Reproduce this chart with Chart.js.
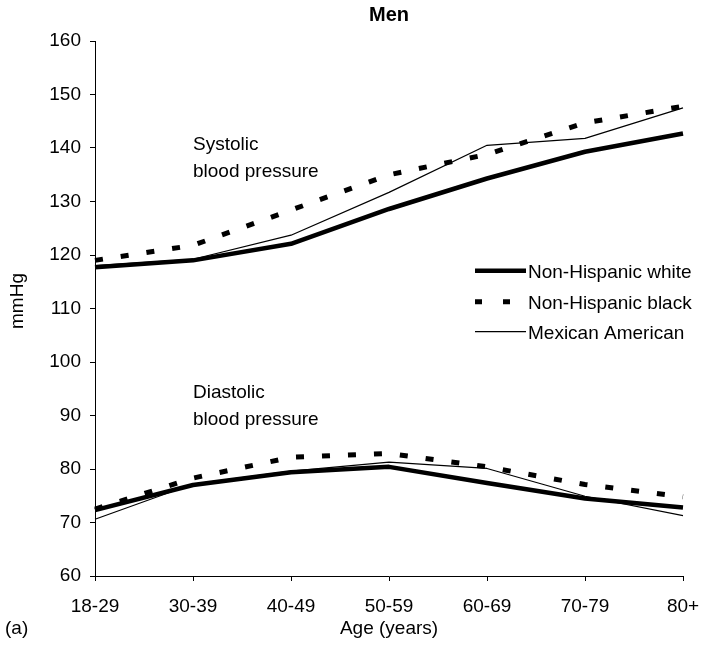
<!DOCTYPE html>
<html>
<head>
<meta charset="utf-8">
<script src="https://cdn.jsdelivr.net/npm/chart.js@4/dist/chart.umd.min.js"></script>
<style>
  html, body { margin: 0; padding: 0; background: #fff; }
  #wrap { width: 702px; height: 647px; }
</style>
</head>
<body>
<div id="wrap"><canvas id="bp" width="702" height="647"></canvas></div>
<script>
// Age groups on the horizontal axis
const ageGroups = ['18-29', '30-39', '40-49', '50-59', '60-69', '70-79', '80+'];

// Mean systolic blood pressure (mmHg), men
const sysWhite    = [117.7, 119.0, 122.1, 128.6, 134.3, 139.3, 142.7];
const sysBlack    = [119.0, 121.8, 128.4, 135.0, 138.8, 144.7, 147.8];
const sysMexican  = [118.0, 119.2, 123.7, 131.7, 140.5, 141.8, 147.5];

// Mean diastolic blood pressure (mmHg), men
const diaWhite    = [72.3, 77.0, 79.4, 80.4, 77.4, 74.5, 72.8];
const diaBlack    = [72.5, 78.3, 82.2, 82.9, 80.4, 77.1, 74.8];
const diaMexican  = [70.6, 77.2, 79.6, 81.3, 80.1, 74.9, 71.3];

// Vertical axis range and tick step
const yMin = 60, yMax = 160, yStep = 10;

// Group names for the legend
const groupNames = ['Non-Hispanic white', 'Non-Hispanic black', 'Mexican American'];

const FONT = '"Liberation Sans", Arial, Helvetica, sans-serif';

const styles = {
  white:   { borderColor: '#000', borderWidth: 4.5, borderDash: [] },
  black:   { borderColor: '#000', borderWidth: 5,   borderDash: [8, 18] },
  mexican: { borderColor: '#000', borderWidth: 1.2, borderDash: [] }
};

function line(label, data, style) {
  return Object.assign({
    label: label,
    data: data,
    fill: false,
    clip: false,
    tension: 0,
    pointRadius: 0,
    pointHoverRadius: 0,
    borderCapStyle: 'butt',
    borderJoinStyle: 'round'
  }, style);
}

// Text labels, legend and captions drawn on top of the chart
const decorations = {
  id: 'decorations',
  afterDraw(chart) {
    const ctx = chart.ctx;
    const area = chart.chartArea;
    ctx.save();
    ctx.fillStyle = '#000';
    ctx.strokeStyle = '#000';

    // title
    ctx.font = 'bold 20px ' + FONT;
    ctx.textAlign = 'center';
    ctx.textBaseline = 'alphabetic';
    ctx.fillText('Men', (area.left + area.right) / 2, 21);

    // curve annotations
    ctx.font = '19px ' + FONT;
    ctx.textAlign = 'left';
    ctx.fillText('Systolic', 193, 150);
    ctx.fillText('blood pressure', 193, 177);
    ctx.fillText('Diastolic', 193, 398);
    ctx.fillText('blood pressure', 193, 425);

    // x axis caption and panel letter
    ctx.textAlign = 'center';
    ctx.fillText('Age (years)', (area.left + area.right) / 2, 634);
    ctx.textAlign = 'left';
    ctx.fillText('(a)', 5, 634);

    // y axis caption
    ctx.save();
    ctx.translate(18, 301);
    ctx.rotate(-Math.PI / 2);
    ctx.textAlign = 'center';
    ctx.textBaseline = 'middle';
    ctx.fillText('mmHg', 0, 0);
    ctx.restore();

    // legend
    const legendStyles = [styles.white, { borderWidth: 5, borderDash: [7, 21] }, styles.mexican];
    const rowsY = [270.7, 301.7, 331.7];
    for (let i = 0; i < groupNames.length; i++) {
      const st = legendStyles[i];
      ctx.beginPath();
      ctx.lineWidth = st.borderWidth;
      ctx.setLineDash(st.borderDash);
      ctx.lineCap = 'butt';
      ctx.moveTo(475, rowsY[i]);
      ctx.lineTo(526, rowsY[i]);
      ctx.stroke();
      ctx.setLineDash([]);
      ctx.textAlign = 'left';
      ctx.textBaseline = 'alphabetic';
      ctx.fillText(groupNames[i], 528, rowsY[i] + 7.5);
    }
    ctx.restore();
  }
};

Chart.defaults.color = '#000';
Chart.defaults.font.family = FONT;
Chart.defaults.font.size = 19;

new Chart(document.getElementById('bp'), {
  type: 'line',
  data: {
    labels: ageGroups,
    datasets: [
      line(groupNames[2] + ' (systolic)', sysMexican, styles.mexican),
      line(groupNames[2] + ' (diastolic)', diaMexican, styles.mexican),
      line(groupNames[0] + ' (systolic)', sysWhite, styles.white),
      line(groupNames[0] + ' (diastolic)', diaWhite, styles.white),
      line(groupNames[1] + ' (systolic)', sysBlack, styles.black),
      line(groupNames[1] + ' (diastolic)', diaBlack, styles.black)
    ]
  },
  options: {
    responsive: false,
    animation: false,
    devicePixelRatio: 1,
    layout: { padding: { left: 0, right: 19, top: 41, bottom: 0 } },
    plugins: {
      legend: { display: false },
      title: { display: false },
      tooltip: { enabled: false }
    },
    scales: {
      x: {
        type: 'category',
        offset: false,
        afterFit(scale) {
          scale.height = 71;
          scale.paddingLeft = 0;
          scale.paddingRight = 0;
        },
        grid: { display: true, drawOnChartArea: false, drawTicks: true, tickLength: 5, color: '#000', lineWidth: 1 },
        border: { display: true, color: '#000', width: 1 },
        ticks: { padding: 14, color: '#000', maxRotation: 0, autoSkip: false, font: { size: 19 } }
      },
      y: {
        min: yMin,
        max: yMax,
        afterFit(scale) { scale.width = 95; },
        grid: { display: true, drawOnChartArea: false, drawTicks: true, tickLength: 5, color: '#000', lineWidth: 1 },
        border: { display: true, color: '#000', width: 1 },
        ticks: { stepSize: yStep, padding: 9, color: '#000', font: { size: 19 } }
      }
    }
  },
  plugins: [decorations]
});
</script>
</body>
</html>
